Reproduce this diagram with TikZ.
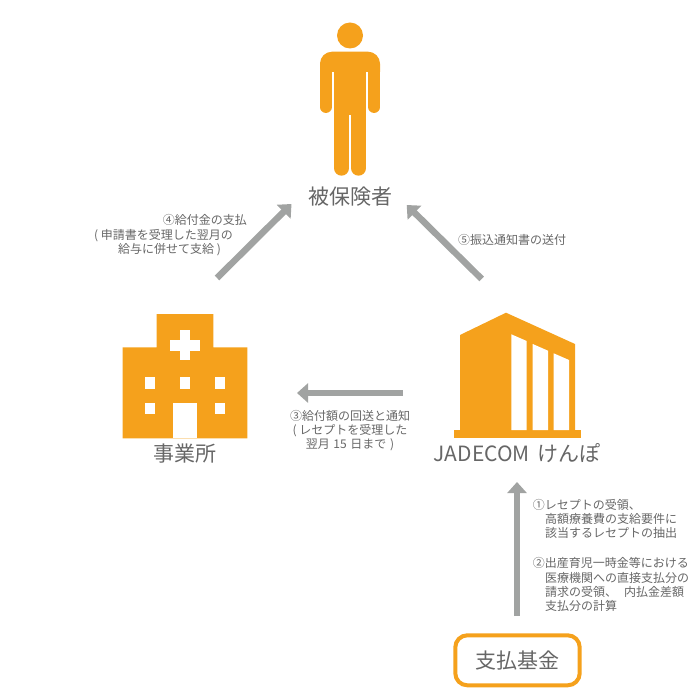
\documentclass[tikz,border=0pt]{standalone}
\usepackage{xcolor}
\usepackage{fontspec}
\usepackage{tikz}
\usetikzlibrary{arrows.meta}
\setmainfont{Noto Sans CJK JP}
\definecolor{iconorange}{HTML}{F5A11C}
\definecolor{arrowgray}{HTML}{A1A3A2}
\definecolor{textgray}{HTML}{666666}

\begin{document}
\begin{tikzpicture}[x=1pt,y=-1pt]
\tikzset{
  flowarrow/.style={draw=arrowgray,line width=6.5pt,-{Triangle[length=11pt,width=19pt,fill=arrowgray]}},
  iconfill/.style={fill=iconorange,draw=none},
  iconhole/.style={fill=white,draw=none},
  biglabel/.style={text=textgray,inner sep=0pt,font=\fontsize{21}{24}\selectfont},
  smalllabel/.style={text=textgray,inner sep=0pt,font=\fontsize{12}{14.2}\selectfont},
}
\useasboundingbox (0,0) rectangle (700,700);
\fill [iconfill] (350,35.5) circle (13);
\fill [iconfill] (320,72) [rounded corners=12] -- (320,51.7) -- (380,51.7) [sharp corners] -- (380,72) -- cycle;
\fill [iconfill] (334,60) rectangle (366,115);
\draw [iconorange,line width=11.7pt,line cap=round] (325.85,65) -- (325.85,107.1);
\draw [iconorange,line width=11.7pt,line cap=round] (374.15,65) -- (374.15,107.1);
\draw [iconorange,line width=15pt,line cap=round] (341.5,105) -- (341.5,168.2);
\draw [iconorange,line width=15pt,line cap=round] (358.5,105) -- (358.5,168.2);
\node [biglabel] (insured) at (350,197) {被保険者};
\fill [iconfill] (122.7,438.3) -- (122.7,347.3) -- (156.7,347.3) -- (156.7,314) -- (213.3,314) -- (213.3,347.3) -- (247.3,347.3) -- (247.3,438.3) -- cycle;
\fill [iconhole] (180,330) rectangle (190,360);
\fill [iconhole] (170,339.5) rectangle (200,350.5);
\foreach \wx in {145,180,215}
  \fill [iconhole] (\wx,377.3) rectangle +(9.7,11.4);
\foreach \wx in {145,215}
  \fill [iconhole] (\wx,402.7) rectangle +(9.7,11.4);
\fill [iconhole] (173.3,402.7) rectangle (196.7,438.3);
\node [biglabel] (office) at (185,454) {事業所};
\fill [iconfill] (460,430) -- (460,335) -- (506,312.7) -- (575,344) -- (575,430) -- cycle;
\fill [iconfill] (454,430) rectangle (580.7,438);
\fill [iconhole] (511.3,430) -- (511.3,334.3) -- (526.7,341) -- (526.7,430) -- cycle;
\fill [iconhole] (532.7,430) -- (532.7,344) -- (548,350.7) -- (548,430) -- cycle;
\fill [iconhole] (553.7,430) -- (553.7,353.3) -- (569,360) -- (569,430) -- cycle;
\node [biglabel] (jadecom) at (517,453) {JADECOM\hspace{3pt} けんぽ};
\node [biglabel,draw=iconorange,line width=4pt,rounded corners=12pt,minimum width=124.4pt,minimum height=50pt] (fund) at (517.5,660.3) {支払基金};
\coordinate (officeout) at (217,278);
\coordinate (insuredleft) at (291.5,204);
\coordinate (jadecomout) at (481.7,279);
\coordinate (insuredright) at (406.7,205);
\coordinate (jadecomleft) at (403,393);
\coordinate (officein) at (297,393);
\coordinate (fundout) at (517,616);
\coordinate (jadecomin) at (517,482);
\draw [flowarrow] (officeout) -- (insuredleft);
\draw [flowarrow] (jadecomout) -- (insuredright);
\draw [flowarrow] (jadecomleft) -- (officein);
\draw [flowarrow] (fundout) -- (jadecomin);
\node [smalllabel,align=left,anchor=north west] (stepfour) at (94,214.5) {\hspace*{68.7pt}④給付金の支払\\( 申請書を受理した翌月の\\\hspace*{24pt}給与に併せて支給 )};
\node [smalllabel] (stepfive) at (512,239.5) {⑤振込通知書の送付};
\node [smalllabel,align=center] (stepthree) at (350,430.5) {③給付額の回送と通知\\( レセプトを受理した\\翌月\hspace{1pt} 15\hspace{1pt} 日まで\hspace{1pt} )};
\node [smalllabel,align=left,anchor=north west] (stepone) at (532.7,499) {①レセプトの受領、\\\hspace*{12.3pt}高額療養費の支給要件に\\\hspace*{12.3pt}該当するレセプトの抽出};
\node [smalllabel,align=left,anchor=north west] (steptwo) at (532.7,557.5) {②出産育児一時金等における\\\hspace*{12.3pt}医療機関への直接支払分の\\\hspace*{12.3pt}請求の受領、\hspace{7pt}内払金差額\\\hspace*{12.3pt}支払分の計算};
\end{tikzpicture}
\end{document}
